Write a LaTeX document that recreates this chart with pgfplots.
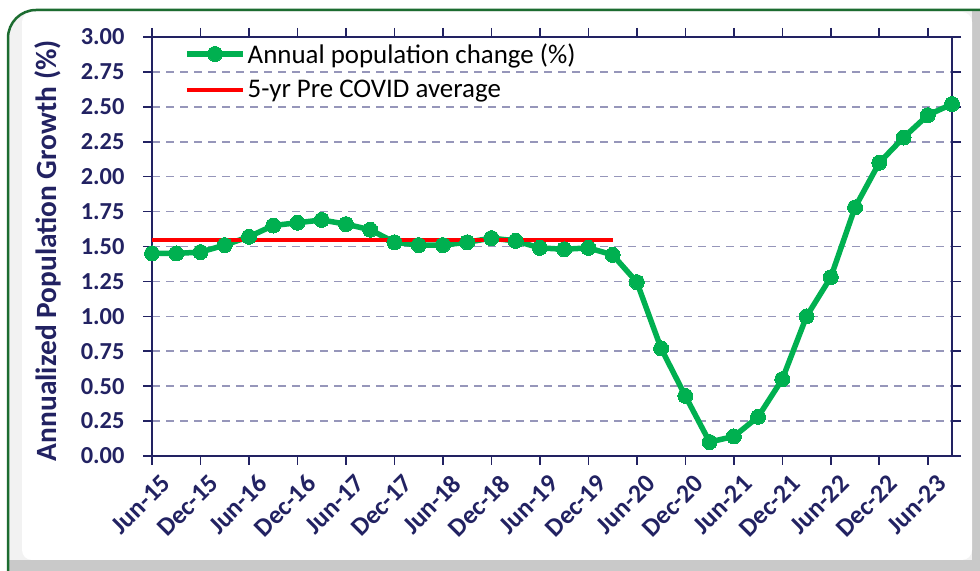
\documentclass[border=0pt]{standalone}
\usepackage{pgfplots}
\pgfplotsset{compat=1.18}
\usepackage{pgfplotstable}
\usepackage{fontspec}
\setmainfont{Carlito}
\definecolor{navy}{RGB}{34,34,98}
\definecolor{sgreen}{RGB}{0,176,80}
\definecolor{framegreen}{RGB}{28,108,48}
\definecolor{gridc}{RGB}{150,150,186}
\pgfplotstableread{
x y
0 1.45
1 1.45
2 1.46
3 1.51
4 1.57
5 1.65
6 1.67
7 1.69
8 1.66
9 1.62
10 1.53
11 1.51
12 1.51
13 1.53
14 1.56
15 1.54
16 1.49
17 1.48
18 1.49
19 1.44
20 1.245
21 0.77
22 0.43
23 0.10
24 0.14
25 0.28
26 0.55
27 1.00
28 1.28
29 1.78
30 2.10
31 2.28
32 2.44
33 2.52
}\growth
\pgfplotstableread{
x y
0 1.546
19 1.546
}\avg
\begin{document}
\begin{tikzpicture}[x=1bp,y=1bp]
\useasboundingbox (0,0) rectangle (980,571);
\fill[white] (0,0) rectangle (980,571);
\begin{scope}
\clip (0,0) rectangle (980,571);
\path[fill=black!5, rounded corners=28bp] (8,-30) rectangle (1010,561);
\begin{scope}
\clip[rounded corners=28bp] (8,-30) rectangle (1010,561);
\fill[black!21] (0,0) rectangle (980,11);
\fill[black!21] (972,0) rectangle (980,571);
\end{scope}
\fill[white, rounded corners=10bp] (22,11) rectangle (972,559);
\draw[framegreen, line width=2.5bp, rounded corners=28bp] (8,-30) rectangle (1010,561);
\end{scope}
\begin{axis}[
  at={(152bp,115bp)}, anchor=south west,
  scale only axis, width=800bp, height=419bp,
  xmin=0, xmax=33, ymin=0, ymax=3,
  axis line style={navy, line width=1.6bp},
  xtick={0,2,...,32},
  xticklabels={Jun-15,Dec-15,Jun-16,Dec-16,Jun-17,Dec-17,Jun-18,Dec-18,Jun-19,Dec-19,Jun-20,Dec-20,Jun-21,Dec-21,Jun-22,Dec-22,Jun-23},
  ytick={0,0.25,...,3.01},
  tick align=outside, major tick length=9bp,
  tick style={navy, line width=1.6bp},
  ticklabel style={font=\fontsize{24.5}{27}\selectfont\bfseries, text=navy},
  yticklabel style={xshift=-15bp, /pgf/number format/.cd, fixed, fixed zerofill, precision=2, assume math mode=true},
  xticklabel style={rotate=45, anchor=east, xshift=3bp, yshift=-20bp, font=\fontsize{26}{28}\selectfont\bfseries},
  ymajorgrids, grid style={gridc, line width=1.6bp, dash pattern=on 8bp off 6bp},
  ylabel={Annualized Population Growth (\%)},
  ylabel style={font=\fontsize{29.5}{32}\selectfont\bfseries, text=navy, at={(axis description cs:-0.13,0.49)}, anchor=center},
  legend style={draw=none, fill=none, at={(0.04,0.99)}, anchor=north west, font=\fontsize{27}{30}\selectfont, row sep=12bp, inner sep=0pt},
  legend cell align=left,
  legend image code/.code={\draw[mark repeat=2,mark phase=2,#1] plot coordinates {(0bp,0bp) (28bp,0bp) (56bp,0bp)};},
  clip=false,
]
\addplot[sgreen, line width=5.5bp, mark=*, mark size=7.5bp, mark options={fill=sgreen, draw=sgreen, line width=0bp}] table[x=x,y=y] {\growth};
\addlegendentry{Annual population change (\%)}
\addplot[red, line width=3.8bp] table[x=x,y=y] {\avg};
\addlegendentry{5-yr Pre COVID average}
\end{axis}
\end{tikzpicture}
\end{document}
